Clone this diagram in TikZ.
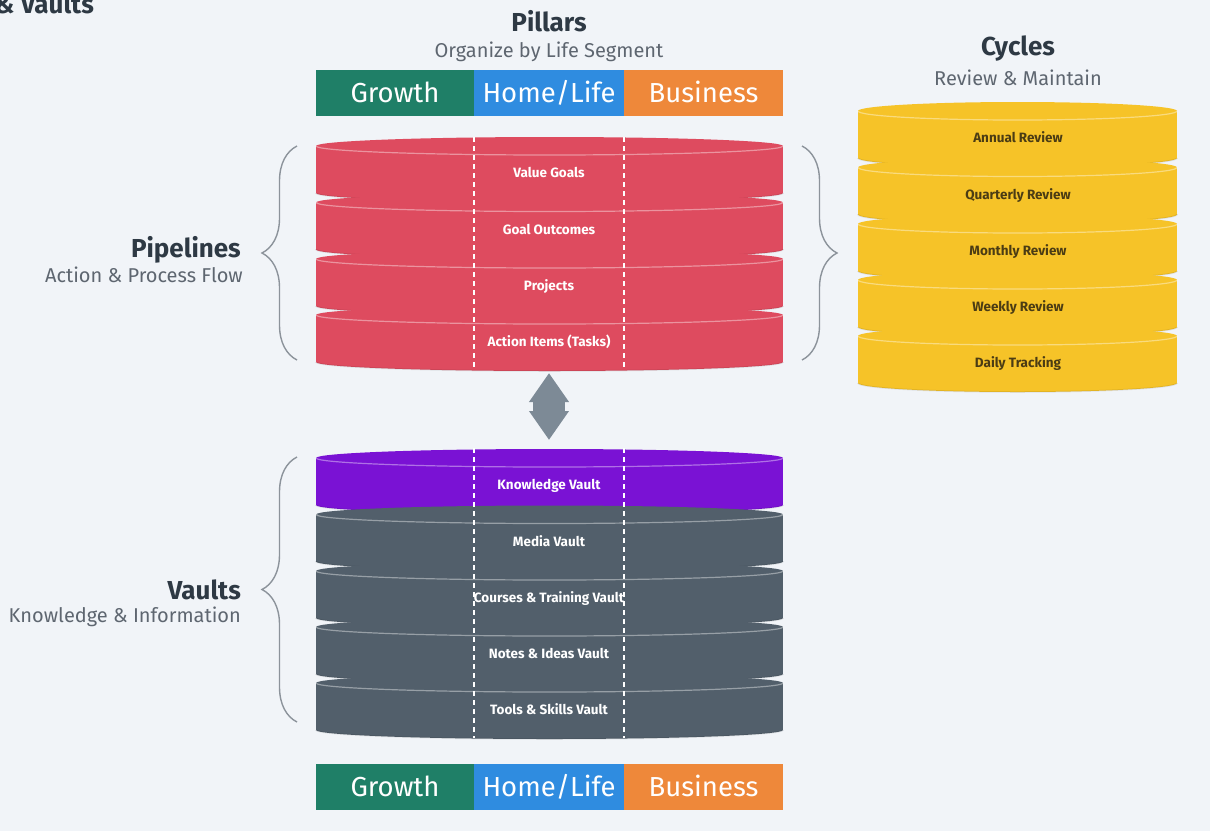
\documentclass[tikz,border=0pt]{standalone}
\usepackage{fontspec}
\setmainfont{Fira Sans}
\usetikzlibrary{arrows.meta,decorations.pathreplacing}

\definecolor{bgc}{HTML}{F1F4F8}
\definecolor{titlec}{HTML}{2E3944}
\definecolor{subc}{HTML}{5E6670}
\definecolor{cgreen}{HTML}{1F7F67}
\definecolor{cblue}{HTML}{2F8CE0}
\definecolor{corange}{HTML}{EE883A}
\definecolor{cred}{HTML}{DE4B5F}
\definecolor{cpurple}{HTML}{7A12D4}
\definecolor{cslate}{HTML}{525F6B}
\definecolor{cyellow}{HTML}{F6C328}
\definecolor{cyeltext}{HTML}{4B3C14}
\definecolor{carrow}{HTML}{7D8A96}
\definecolor{cbrace}{HTML}{8C939B}

% one disk of a stack: centre x, label y, half width, fill colour
\newcommand\diskbody[4]{%
  \fill[#4] (#1,#2+20) ellipse [x radius=#3, y radius=9];
  \fill[#4] (#1-#3,#2-27) rectangle (#1+#3,#2+20);
  \fill[#4] (#1,#2-27) ellipse [x radius=#3, y radius=9];
  \begin{scope}
    \clip (#1-#3-3,#2-27) rectangle (#1+#3+3,#2-15);
    \draw[rimline] (#1,#2-27) ellipse [x radius=#3, y radius=9];
  \end{scope}
  \begin{scope}
    \clip (#1-#3-3,#2+20) rectangle (#1+#3+3,#2+32);
    \draw[baseline] (#1,#2+20) ellipse [x radius=#3, y radius=9];
  \end{scope}
}

\tikzset{
  rimline/.style={white, opacity=0.4, line width=1.2pt},
  baseline/.style={black, opacity=0.08, line width=1.5pt},
  pillar/.style={rectangle, inner sep=0pt, outer sep=0pt, minimum height=46,
    text=white, font=\fontsize{27.5}{32}\selectfont, text height=19pt, text depth=0pt},
  disklabel/.style={inner sep=0pt, font=\bfseries\fontsize{13.5}{15}\selectfont,
    text=white, text height=9.5pt, text depth=0pt},
  cyclabel/.style={disklabel, text=cyeltext},
  divider/.style={white, line width=1.6pt, dash pattern=on 5pt off 4pt},
  bigtitle/.style={font=\bfseries\fontsize{26}{30}\selectfont, text=titlec, inner sep=0pt},
  subtitle/.style={font=\fontsize{20}{24}\selectfont, text=subc, inner sep=0pt},
  bracestyle/.style={cbrace, line width=1.4pt, decorate,
    decoration={brace, amplitude=35pt}},
}

\begin{document}
\begin{tikzpicture}[x=1pt, y=-1pt]
  \useasboundingbox (0,0) rectangle (1210,831);
  \fill[bgc] (0,0) rectangle (1210,831);

  % heading cut at the top edge
  \node[bigtitle, anchor=base east] (head) at (94,13) {\& Vaults};

  % pillars heading and top bar
  \node[bigtitle, anchor=base] (pillars) at (549,31) {Pillars};
  \node[subtitle, anchor=base] (pillarsub) at (549,57) {Organize by Life Segment};
  \node[pillar, fill=cgreen, minimum width=158] (growthT) at (395,93) {Growth};
  \node[pillar, fill=cblue, minimum width=150] (homeT) at (549,93) {Home/Life};
  \node[pillar, fill=corange, minimum width=159] (busT) at (703.5,93) {Business};

  % pipeline stack
  \foreach \y in {173,229.5,286,342} {\diskbody{549.5}{\y}{233.5}{cred}}
  \draw[divider] (474,137) -- (474,370);
  \draw[divider] (624,137) -- (624,370);
  \foreach \y/\n/\t in {173/vgoals/{Value Goals},229.5/goutc/{Goal Outcomes},
      286/projs/{Projects},342/actions/{Action Items (Tasks)}}
    {\node[disklabel] (\n) at (549,\y) {\t};}

  % vault stack
  \diskbody{549.5}{485}{233.5}{cpurple}
  \foreach \y in {541.5,598,654,710} {\diskbody{549.5}{\y}{233.5}{cslate}}
  \draw[divider] (474,448) -- (474,738);
  \draw[divider] (624,448) -- (624,738);
  \foreach \y/\n/\t in {485/kvault/{Knowledge Vault},541.5/mvault/{Media Vault},
      598/cvault/{Courses \& Training Vault},654/nvault/{Notes \& Ideas Vault},
      710/tvault/{Tools \& Skills Vault}}
    {\node[disklabel] (\n) at (549,\y) {\t};}

  % two-way link between pipelines and vaults
  \coordinate (pipebot) at (549,373);
  \coordinate (vaulttop) at (549,440);
  \draw[carrow, line width=32pt,
    {Triangle[width=38pt, length=29pt]}-{Triangle[width=38pt, length=29pt]}]
    (pipebot) -- (vaulttop);

  % bottom bar
  \node[pillar, fill=cgreen, minimum width=158] (growthB) at (395,787) {Growth};
  \node[pillar, fill=cblue, minimum width=150] (homeB) at (549,787) {Home/Life};
  \node[pillar, fill=corange, minimum width=159] (busB) at (703.5,787) {Business};

  % cycles
  \node[bigtitle, anchor=base] (cycles) at (1018,55) {Cycles};
  \node[subtitle, anchor=base] (cyclesub) at (1018,85) {Review \& Maintain};
  \foreach \y in {138,194.5,251,307,363} {\diskbody{1017.5}{\y}{159.5}{cyellow}}
  \foreach \y/\n/\t in {138/annual/{Annual Review},194.5/quarter/{Quarterly Review},
      251/monthly/{Monthly Review},307/weekly/{Weekly Review},363/daily/{Daily Tracking}}
    {\node[cyclabel] (\n) at (1018,\y) {\t};}

  % braces and group labels
  \draw[bracestyle] (297,360) -- (297,146);
  \draw[bracestyle] (802,146) -- (802,360);
  \draw[bracestyle] (297,722) -- (297,457);
  \node[bigtitle, anchor=base east] (pipes) at (241,257) {Pipelines};
  \node[subtitle, anchor=base east] (pipesub) at (243,282) {Action \& Process Flow};
  \node[bigtitle, anchor=base east] (vaults) at (241,599) {Vaults};
  \node[subtitle, anchor=base east] (vaultsub) at (241,622) {Knowledge \& Information};
\end{tikzpicture}
\end{document}
